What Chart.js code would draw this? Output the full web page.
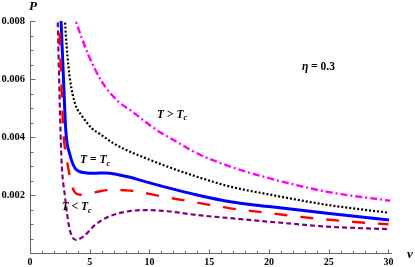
<!DOCTYPE html>
<html>
<head>
<meta charset="utf-8">
<script src="https://cdn.jsdelivr.net/npm/chart.js@4.4.1/dist/chart.umd.min.js"></script>
<style>
  html, body { margin: 0; padding: 0; background: #fff; }
</style>
</head>
<body>
<canvas id="pvChart" width="415" height="267"></canvas>
<script>
// P-v isotherms, eta = 0.3
const vHot = [3.6, 3.83, 4.89, 6.01, 7.4, 8.38, 9.64, 10.6, 12.0, 13.97, 16.76, 20.0, 24.87, 30.15];
const pHot = [0.0083, 0.0080, 0.00683, 0.00591, 0.00522, 0.00493, 0.00453, 0.00424, 0.0039, 0.00344, 0.00298, 0.00258, 0.00211, 0.0018];

const vAbove = [2.88, 2.93, 3.07, 3.35, 3.8, 4.33, 5.17, 5.87, 7.0, 8.38, 9.64, 11.17, 13.97, 16.76, 20.0, 24.87, 30.0];
const pAbove = [0.0085, 0.0080, 0.00712, 0.00598, 0.00512, 0.00474, 0.0043, 0.0041, 0.00378, 0.00349, 0.00328, 0.00303, 0.00263, 0.00229, 0.00202, 0.00166, 0.00139];

const vCrit = [2.55, 2.6, 2.79, 3.0, 3.35, 3.77, 4.61, 5.5, 6.29, 7.3, 8.38, 9.64, 11.17, 13.97, 16.76, 20.0, 24.87, 30.05];
const pCrit = [0.0085, 0.0080, 0.00614, 0.0042, 0.00338, 0.00293, 0.00277, 0.00275, 0.00276, 0.00271, 0.00261, 0.00246, 0.00229, 0.0020, 0.00177, 0.0016, 0.00137, 0.00114];

const vBelow = [2.39, 2.43, 2.6, 2.79, 3.05, 3.3, 3.63, 4.2, 4.8, 5.87, 7.0, 8.1, 9.08, 11.17, 13.97, 16.76, 20.0, 22.5, 24.7, 26.9, 30.0];
const pBelow = [0.0085, 0.0080, 0.00614, 0.0042, 0.0033, 0.00272, 0.00218, 0.00201, 0.00204, 0.00213, 0.00218, 0.00216, 0.00211, 0.00194, 0.00174, 0.00154, 0.00138, 0.00125, 0.00116, 0.00108, 0.00099];

const vLow = [2.28, 2.32, 2.43, 2.56, 2.65, 2.93, 3.27, 3.55, 3.85, 4.2, 4.61, 5.45, 6.57, 7.96, 9.64, 11.5, 13.97, 16.76, 20.0, 24.87, 30.0];
const pLow = [0.0085, 0.0080, 0.00614, 0.0041, 0.00309, 0.00194, 0.00091, 0.00055, 0.00045, 0.0005, 0.00062, 0.00097, 0.00125, 0.00142, 0.00148, 0.00144, 0.00131, 0.0012, 0.00108, 0.00091, 0.00082];

// ticks
const xMajorStep = 5;
const xMinorStep = 1;
const yMajorStep = 0.002;
const yMinorStep = 0.0005;

// text labels placed in data coordinates [v, P]
const notes = [
  { at: [10.64, 0.00467], parts: [["T", 1], [" > ", 0], ["T", 1], ["c", 2]] },
  { at: [4.19, 0.0031], parts: [["T", 1], [" = ", 0], ["T", 1], ["c", 2]] },
  { at: [2.65, 0.00148], parts: [["T", 1], [" < ", 0], ["T", 1], ["c", 2]] },
  { at: [22.76, 0.0063], parts: [["η", 1], [" = 0.3", 0]] }
];

const serif = '"Liberation Serif", "DejaVu Serif", serif';

function toPoints(vs, ps) {
  return vs.map((v, i) => ({ x: v, y: ps[i] }));
}

function curve(vs, ps, color, width, dash) {
  return {
    data: toPoints(vs, ps),
    borderColor: color,
    borderWidth: width,
    borderDash: dash,
    borderCapStyle: "butt",
    pointRadius: 0,
    fill: false,
    cubicInterpolationMode: "monotone",
    clip: 0
  };
}

// draw mixed italic / subscript text
function drawParts(ctx, parts, x, y, size) {
  parts.forEach(([t, kind]) => {
    const s = kind === 2 ? size * 0.72 : size;
    ctx.font = (kind ? "italic " : "") + "bold " + s + "px " + serif;
    ctx.fillText(t, x, kind === 2 ? y + 2.5 : y);
    x += ctx.measureText(t).width;
  });
}

const axesPlugin = {
  id: "axes",
  beforeDatasetsDraw(chart) {
    const { ctx, chartArea: a, scales: { x, y } } = chart;
    ctx.save();
    ctx.strokeStyle = "#666";
    ctx.lineWidth = 1;
    ctx.beginPath();
    const left = Math.round(a.left) + 0.5;
    const bottom = Math.round(a.bottom) + 0.5;
    ctx.moveTo(left, a.top);
    ctx.lineTo(left, bottom);
    ctx.lineTo(a.right, bottom);
    for (let v = x.min; v <= x.max + 1e-9; v += xMinorStep) {
      const px = Math.round(x.getPixelForValue(v)) + 0.5;
      const len = Math.abs(v % xMajorStep) < 1e-9 ? 4 : 2.5;
      ctx.moveTo(px, bottom);
      ctx.lineTo(px, bottom - len);
    }
    for (let i = 1; i * yMinorStep <= y.max + 1e-12; i++) {
      const py = Math.round(y.getPixelForValue(i * yMinorStep)) + 0.5;
      const len = i % Math.round(yMajorStep / yMinorStep) === 0 ? 5 : 3;
      ctx.moveTo(left, py);
      ctx.lineTo(left + len, py);
    }
    ctx.stroke();
    ctx.restore();
  },
  afterDraw(chart) {
    const { ctx, chartArea: a, scales: { x, y } } = chart;
    ctx.save();
    ctx.fillStyle = "#000";
    ctx.textBaseline = "alphabetic";
    ctx.textAlign = "left";
    notes.forEach(n => {
      drawParts(ctx, n.parts, x.getPixelForValue(n.at[0]), y.getPixelForValue(n.at[1]), 11.5);
    });
    // axis titles
    ctx.font = "italic bold 13px " + serif;
    ctx.fillText("P", a.left - 1, a.top - 11);
    ctx.fillText("v", a.right + 15, a.bottom + 5);
    ctx.restore();
  }
};

const chart = new Chart(document.getElementById("pvChart"), {
  type: "line",
  data: {
    datasets: [
      curve(vHot, pHot, "#ff00ff", 2.4, [7, 3, 2, 3]),
      curve(vAbove, pAbove, "#000000", 2.2, [2, 2]),
      curve(vBelow, pBelow, "#ff0000", 2.4, [13, 13]),
      curve(vLow, pLow, "#800080", 2.2, [5, 3]),
      curve(vCrit, pCrit, "#0000ff", 3, [])
    ]
  },
  options: {
    responsive: false,
    animation: false,
    layout: { padding: { top: 21, right: 23, left: 0, bottom: 0 } },
    plugins: { legend: { display: false }, tooltip: { enabled: false } },
    scales: {
      x: {
        type: "linear",
        min: 0,
        max: 30.3,
        grid: { display: false, drawTicks: false },
        border: { display: false },
        afterFit: s => { s.height = 14; },
        ticks: {
          stepSize: xMajorStep,
          includeBounds: false,
          padding: 3,
          color: "#000",
          maxRotation: 0,
          font: { family: serif, size: 10, weight: "bold" },
          callback: v => (v % xMajorStep === 0 ? String(v) : "")
        }
      },
      y: {
        min: 0,
        max: 0.008,
        grid: { display: false, drawTicks: false },
        border: { display: false },
        afterFit: s => { s.width = 30; },
        ticks: {
          stepSize: yMajorStep,
          padding: 5,
          color: "#000",
          font: { family: serif, size: 10.5, weight: "bold" },
          callback: v => (v === 0 ? "" : v.toFixed(3))
        }
      }
    }
  },
  plugins: [axesPlugin]
});
</script>
</body>
</html>
